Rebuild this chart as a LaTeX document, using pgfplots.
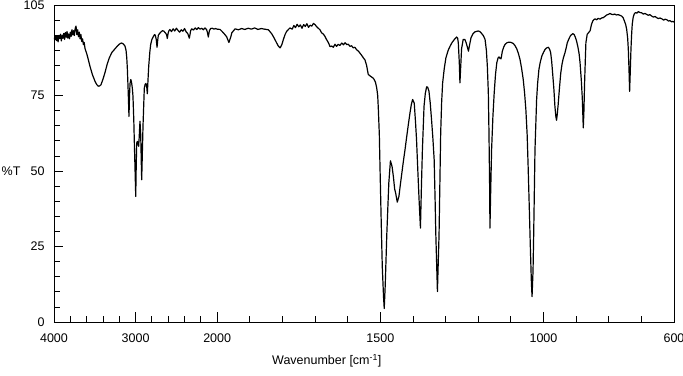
\documentclass[border=0pt]{standalone}
\usepackage{fontspec}
\setmainfont{Liberation Sans}
\usepackage{pgfplots}
\pgfplotsset{compat=1.18}
\begin{document}
\begin{tikzpicture}
\begin{axis}[
  name=ax,
  scale only axis, width=620pt, height=317pt,
  xmin=0, xmax=1900, ymin=0, ymax=105,
  axis line style={line width=0.8pt, black},
  xtick={0,250,500,1000,1500,1900},
  xticklabels={4000,3000,2000,1500,1000,600},
  minor xtick={50,100,150,200,300,350,400,450,600,700,800,900,1100,1200,1300,1400,1600,1700,1800},
  ytick={0,25,50,75,105},
  yticklabels={0,25,50,75,105},
  minor ytick={5,10,15,20,30,35,40,45,55,60,65,70,80,85,90,95,100},
  tick align=inside, xtick pos=bottom, ytick pos=left,
  major tick length=9.5pt, minor tick length=6pt,
  tick style={black, line width=0.8pt},
  ticklabel style={font=\fontsize{12.5}{14}\selectfont},
  xticklabel style={yshift=-8pt},
  yticklabel style={xshift=-6pt},
  xlabel={Wavenumber [cm\textsuperscript{-1}]},
  every axis x label/.style={at={(ticklabel cs:0.44)}, anchor=north, yshift=-5pt, font=\fontsize{12.5}{14}\selectfont},
  ylabel={\%T},
  every axis y label/.style={at={(rel axis cs:0,0.476)}, anchor=east, xshift=-30pt, font=\fontsize{12.5}{14}\selectfont},
  x filter/.expression={x>1999.99 ? (4000-x)/4 : 2500-x},
  clip=true,
]
\addplot[black, line width=1.2pt, line join=round, mark=none] table {
4000 94.2
3990 93.5
3980 94.8
3970 93.2
3960 94.6
3950 92.8
3940 94.9
3930 93.9
3920 95.3
3910 93.1
3900 95.0
3890 94.0
3880 95.6
3870 93.6
3860 95.9
3850 94.3
3840 96.2
3830 94.0
3820 95.4
3810 93.8
3800 96.0
3790 94.6
3780 96.8
3770 95.1
3760 96.5
3750 94.9
3740 97.3
3730 98.0
3720 95.2
3710 96.8
3700 94.5
3690 96.0
3680 93.8
3670 95.2
3660 92.9
3650 93.8
3640 91.9
3630 92.6
3620 90.6
3600 89.0
3580 87.0
3559 84.7
3530 82.0
3497 79.7
3475 78.6
3457 78.1
3440 78.2
3424 78.6
3400 80.4
3375 82.6
3350 85.2
3322 87.5
3290 89.3
3252 90.5
3220 91.5
3191 92.2
3170 92.4
3150 92.1
3130 91.4
3117 90.0
3108 87.5
3101 84.0
3090 76.0
3081 68.1
3074 75.0
3068 79.0
3058 80.3
3050 79.5
3040 77.5
3032 74.8
3022 67.0
3016 60.4
3006 50.0
2998 41.6
2992 52.0
2986 59.3
2978 59.8
2970 59.3
2962 58.2
2956 61.0
2946 66.5
2937 62.0
2930 53.0
2925 47.1
2917 56.0
2909 64.8
2900 72.0
2893 77.5
2882 78.8
2872 79.0
2862 77.5
2856 75.6
2848 80.0
2839 84.7
2825 89.5
2815 91.9
2800 93.6
2783 94.5
2768 95.2
2758 95.0
2746 93.5
2737 91.0
2728 93.5
2721 95.0
2705 95.6
2692 96.0
2670 96.5
2652 96.3
2633 95.7
2620 95.2
2611 93.9
2602 95.5
2594 96.3
2580 96.9
2560 96.2
2540 97.1
2520 96.4
2500 97.3
2480 96.6
2460 96.0
2440 96.8
2420 96.3
2400 97.2
2380 96.1
2360 95.5
2341 94.0
2325 96.5
2312 97.1
2290 96.7
2270 97.4
2250 96.9
2230 97.5
2210 97.0
2190 97.3
2170 96.8
2150 97.4
2130 96.9
2120 96.0
2108 94.4
2095 96.5
2080 97.2
2060 97.3
2040 97.0
2020 97.2
2000 97.0
1991 96.9
1981 95.8
1971 94.5
1964 92.6
1958 94.5
1955 95.8
1945 97.1
1935 96.8
1925 97.2
1915 96.9
1905 97.3
1895 97.0
1885 97.4
1875 96.9
1865 97.2
1855 97.0
1843 96.8
1833 95.5
1825 94.0
1818 92.5
1812 91.3
1807 90.8
1802 91.8
1797 93.6
1792 95.2
1787 96.3
1777 97.4
1770 97.0
1765 98.2
1760 97.5
1755 98.6
1750 97.8
1745 98.4
1740 97.3
1735 98.5
1730 97.9
1725 98.8
1720 97.6
1715 98.3
1710 98.0
1705 98.9
1700 98.5
1695 97.8
1690 97.3
1685 96.8
1680 95.8
1675 95.4
1670 94.7
1665 93.6
1659 92.5
1654 91.2
1649 91.4
1644 91.0
1639 92.0
1634 91.3
1629 92.0
1624 91.6
1618 92.4
1613 91.8
1608 92.5
1603 91.9
1598 92.0
1593 91.3
1588 91.5
1583 90.8
1578 91.0
1572 90.1
1567 89.7
1562 89.0
1557 88.3
1552 87.5
1547 86.8
1542 85.0
1537 82.0
1530 81.4
1521 80.7
1515 79.5
1511 77.5
1508 75.0
1506 70.4
1503 62.0
1501 51.5
1497 32.0
1494 18.4
1490 8.0
1488 4.5
1485 12.0
1480 29.4
1474 46.0
1469 53.4
1464 51.5
1460 48.2
1456 44.0
1453 42.7
1448 39.7
1443 41.6
1438 46.0
1430 52.7
1425 56.5
1419 61.5
1414 65.5
1409 69.3
1405 72.0
1401 73.7
1396 72.5
1392 66.0
1389 60.4
1385 50.0
1381 40.0
1377 31.1
1374 45.0
1371 57.1
1366 71.5
1362 75.8
1358 77.9
1355 77.8
1351 76.5
1347 72.5
1343 67.0
1339 61.0
1335 53.8
1332 40.0
1330 29.4
1325 10.1
1320 29.0
1315 62.6
1312 73.0
1309 79.2
1304 84.0
1299 87.5
1292 90.0
1286 91.4
1280 92.6
1273 93.6
1266 94.4
1263 94.0
1261 92.5
1258 86.0
1256 79.2
1253 86.0
1251 90.5
1246 93.6
1241 93.6
1237 92.5
1233 91.0
1230 89.7
1226 92.0
1222 94.2
1216 95.5
1210 96.1
1200 96.4
1195 96.2
1189 95.5
1184 94.8
1179 93.6
1175 90.0
1172 84.7
1169 76.0
1167 62.6
1165 45.0
1164 31.1
1162 42.0
1159 57.0
1155 68.0
1151 75.9
1147 82.0
1143 85.9
1139 87.5
1136 87.8
1133 87.3
1130 87.2
1126 89.7
1122 91.0
1118 91.9
1112 92.5
1106 92.7
1099 92.6
1092 92.2
1087 91.5
1082 90.5
1077 89.0
1072 87.0
1067 84.0
1062 80.3
1058 76.0
1054 70.4
1050 62.0
1047 51.5
1043 36.0
1040 23.9
1037 13.0
1035 8.4
1032 17.0
1030 29.0
1026 57.1
1021 73.7
1018 79.0
1014 83.6
1010 86.0
1005 88.1
1000 89.3
995 90.3
990 90.8
985 91.0
981 90.3
978 89.2
975 86.5
972 82.5
968 77.0
965 71.5
962 68.0
960 66.8
958 68.5
955 72.0
951 77.5
947 82.5
943 85.5
939 87.5
934 89.2
930 91.0
927 92.5
922 93.8
917 94.9
910 95.5
906 95.2
903 94.5
899 93.2
895 91.4
891 89.0
888 86.0
884 80.0
881 74.0
878 64.3
876 70.0
874 79.2
872 86.0
870 92.5
866 95.3
862 95.8
857 96.5
853 98.5
849 99.7
845 100.2
842 100.4
837 100.1
832 100.6
827 100.3
822 100.7
817 100.8
812 101.2
806 101.7
801 101.9
796 102.2
791 101.9
787 101.8
782 102.0
777 101.7
771 101.8
766 101.6
760 101.3
756 100.8
752 99.7
748 98.5
745 96.9
742 94.0
740 90.3
738 84.0
736 76.4
734 83.0
732 90.0
730 95.0
728 98.6
725 101.0
722 102.0
718 102.5
714 102.3
709 102.8
704 102.5
699 102.4
694 102.0
689 102.2
684 101.9
679 101.6
674 101.8
668 101.3
663 101.0
658 101.2
653 100.8
648 100.5
643 100.7
637 100.4
632 100.0
627 100.3
622 100.1
617 99.7
612 99.8
607 99.4
603 99.6
600 99.3
};
\end{axis}
\pgfresetboundingbox
\path[use as bounding box] ([xshift=-54pt,yshift=5pt]ax.north west) rectangle ([xshift=9pt,yshift=-53pt]ax.south east);
\end{tikzpicture}
\end{document}
